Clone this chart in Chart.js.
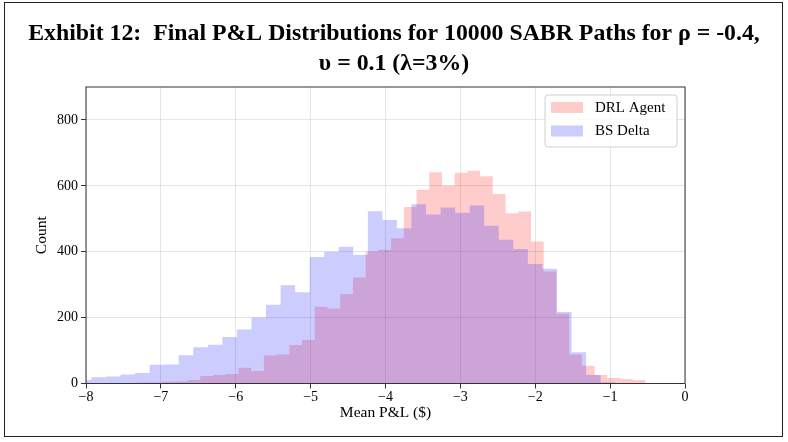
<!DOCTYPE html>
<html>
<head>
<meta charset="utf-8">
<script src="https://cdn.jsdelivr.net/npm/chart.js@4.4.1/dist/chart.umd.min.js"></script>
<style>
  body { margin: 0; background: #fff; }
  #wrap { position: relative; width: 788px; height: 442px; }
  #frame { position: absolute; left: 4px; top: 2px; width: 777px; height: 433px; border: 1.5px solid #222; pointer-events: none; }
</style>
</head>
<body>
<div id="wrap">
  <canvas id="histChart" width="788" height="442"></canvas>
  <div id="frame"></div>
</div>
<script>
// Histogram bins (counts)
const redLabel = 'DRL Agent';
const redFirstEdge = -7.4929;
const redBinWidth = 0.16987;
const redCounts = [1, 3, 3, 5, 6, 11, 23, 26, 29, 48, 38, 85, 88, 117, 132, 233, 228, 272, 322, 401,
  406, 441, 536, 588, 641, 601, 640, 646, 629, 575, 517, 522, 431, 340, 212, 88, 54, 26, 17, 14, 11];

const blueLabel = 'BS Delta';
const blueFirstEdge = -8.1218;
const blueBinWidth = 0.1943;
const blueCounts = [11, 19, 21, 27, 32, 57, 58, 86, 110, 118, 141, 164, 200, 239, 298, 277, 384, 400,
  415, 390, 523, 496, 471, 544, 513, 534, 518, 540, 479, 436, 408, 363, 348, 217, 95, 26, 4];

const xTicks = [-8, -7, -6, -5, -4, -3, -2, -1, 0];
const yTicks = [0, 200, 400, 600, 800];

const titleLines = [
  'Exhibit 12:  Final P&L Distributions for 10000 SABR Paths for \u03C1 = -0.4,',
  '\u03C5 = 0.1 (\u03BB=3%)'
];

const redFill = 'rgba(255, 0, 0, 0.2)';
const blueFill = 'rgba(0, 0, 255, 0.2)';
const serif = 'Liberation Serif';

// Turn bin counts into step points (left edge of every bin, closing at the last right edge)
function histPoints(firstEdge, width, counts) {
  const pts = counts.map((c, i) => ({ x: firstEdge + i * width, y: c }));
  pts.push({ x: firstEdge + counts.length * width, y: 0 });
  return pts;
}

// Center the title over the whole canvas, not just between the layout paddings
const wideTitle = {
  id: 'wideTitle',
  afterLayout(chart) {
    const t = chart.titleBlock;
    if (!t) return;
    t.left = 0;
    t.right = chart.width;
    t.width = chart.width;
  }
};

// Box around the plot area
const plotBox = {
  id: 'plotBox',
  afterDatasetsDraw(chart) {
    const { ctx, chartArea: a } = chart;
    ctx.save();
    ctx.strokeStyle = '#333';
    ctx.lineWidth = 1;
    ctx.strokeRect(a.left, a.top, a.right - a.left, a.bottom - a.top);
    ctx.restore();
  }
};

// Legend drawn inside the plot, top right
const innerLegend = {
  id: 'innerLegend',
  afterDraw(chart) {
    const { ctx, chartArea: a } = chart;
    const x0 = a.right - 140, y0 = a.top + 8, w = 132, h = 52;
    ctx.save();
    ctx.beginPath();
    if (ctx.roundRect) ctx.roundRect(x0, y0, w, h, 3); else ctx.rect(x0, y0, w, h);
    ctx.fillStyle = 'rgba(255,255,255,0.8)';
    ctx.fill();
    ctx.strokeStyle = '#d0d0d0';
    ctx.lineWidth = 1;
    ctx.stroke();
    const rows = [[redLabel, redFill], [blueLabel, blueFill]];
    ctx.font = '15px "' + serif + '"';
    ctx.textBaseline = 'middle';
    rows.forEach(([label, color], i) => {
      const cy = y0 + 12.5 + i * 23.5;
      ctx.fillStyle = color;
      ctx.fillRect(x0 + 6, cy - 5.5, 32, 11);
      ctx.fillStyle = '#000';
      ctx.fillText(label, x0 + 50, cy + 0.5);
    });
    ctx.restore();
  }
};

const tickFont = { family: serif, size: 14 };
const labelFont = { family: serif, size: 15.5 };

new Chart(document.getElementById('histChart'), {
  type: 'line',
  data: {
    datasets: [
      {
        label: redLabel,
        data: histPoints(redFirstEdge, redBinWidth, redCounts),
        stepped: 'before',
        fill: 'origin',
        backgroundColor: redFill,
        borderColor: 'rgba(0,0,0,0)',
        borderWidth: 0,
        pointRadius: 0,
        order: 2,
      },
      {
        label: blueLabel,
        data: histPoints(blueFirstEdge, blueBinWidth, blueCounts),
        stepped: 'before',
        fill: 'origin',
        backgroundColor: blueFill,
        borderColor: 'rgba(0,0,0,0)',
        borderWidth: 0,
        pointRadius: 0,
        order: 1,
      },
    ],
  },
  options: {
    responsive: false,
    animation: false,
    layout: { padding: { left: 33, right: 103, top: 0, bottom: 20 } },
    plugins: {
      legend: { display: false },
      tooltip: { enabled: false },
      title: {
        display: true,
        text: titleLines,
        color: '#000',
        font: { family: serif, size: 23.8, weight: 'bold', lineHeight: 30 / 23.8 },
        padding: { top: 19, bottom: 8 },
      },
    },
    scales: {
      x: {
        type: 'linear',
        min: xTicks[0],
        max: xTicks[xTicks.length - 1],
        afterBuildTicks: (s) => { s.ticks = xTicks.map((v) => ({ value: v })); },
        afterFit: (s) => { s.height = 38.5; },
        ticks: {
          color: '#000',
          font: tickFont,
          padding: 0,
          callback: (v) => String(v).replace('-', '\u2212'),
        },
        grid: { color: 'rgba(0,0,0,0.1)', tickColor: '#333', tickLength: 5 },
        border: { display: false },
        title: { display: true, text: 'Mean P&L ($)', color: '#000', font: labelFont, padding: 0 },
      },
      y: {
        min: 0,
        max: 900,
        afterBuildTicks: (s) => { s.ticks = yTicks.map((v) => ({ value: v })); },
        afterFit: (s) => { s.width = 53; },
        ticks: { color: '#000', font: tickFont, padding: 3 },
        grid: { color: 'rgba(0,0,0,0.1)', tickColor: '#333', tickLength: 5 },
        border: { display: false },
        title: { display: true, text: 'Count', color: '#000', font: labelFont, padding: 0 },
      },
    },
  },
  plugins: [wideTitle, plotBox, innerLegend],
});
</script>
</body>
</html>
